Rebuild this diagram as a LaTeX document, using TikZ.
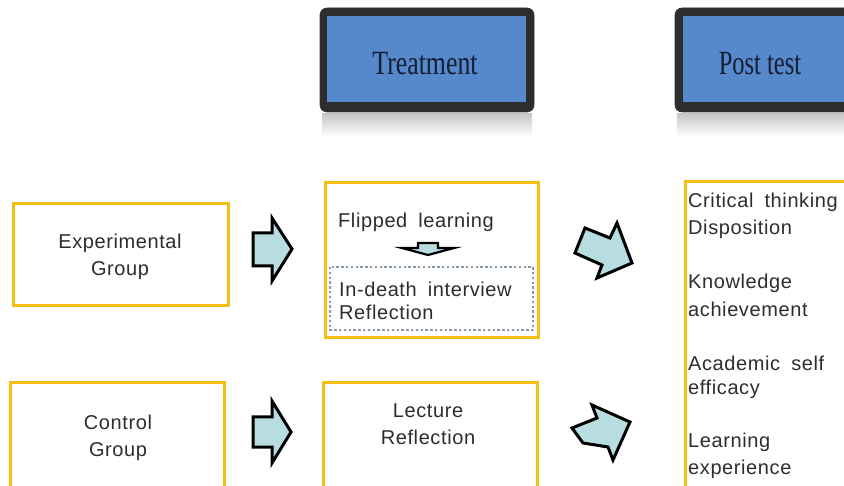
\documentclass[tikz,border=0pt]{standalone}
\usepackage{fontspec}
\newfontfamily\bodyf[LetterSpace=3,WordSpace=1.8]{Liberation Sans}
\newfontfamily\headf{Liberation Serif}
\definecolor{ybord}{RGB}{245,190,20}
\definecolor{hblue}{RGB}{86,136,204}
\definecolor{hdark}{RGB}{45,45,45}
\definecolor{afill}{RGB}{183,221,224}
\definecolor{tgray}{RGB}{45,45,45}
\definecolor{dotc}{RGB}{135,152,168}
\definecolor{navy}{RGB}{22,30,52}
\tikzset{
  ybox/.style={draw=ybord, line width=3pt, fill=white, inner sep=0pt},
  btext/.style={font=\bodyf\fontsize{20}{27}\selectfont, text=tgray, align=center},
  ltext/.style={font=\bodyf\fontsize{20}{27}\selectfont, text=tgray, anchor=west, inner sep=0pt},
  hframe/.style={fill=hdark, rounded corners=7pt, draw=black!80, line width=0.6pt},
  hinner/.style={fill=hblue, draw=none},
  htext/.style={font=\headf\fontsize{34}{34}\selectfont, text=navy},
  blockarrow/.style={fill=afill, draw=black, line width=3pt, line join=miter},
  refl/.style={top color=black!22, bottom color=white, draw=none}
}
\begin{document}
\begin{tikzpicture}[x=1pt,y=-1pt]
\useasboundingbox (0,0) rectangle (844,486);
\fill[white] (0,0) rectangle (844,486);

% header boxes
\shade[refl] (322,114) rectangle (532,136);
\draw[hframe] (320,8) rectangle (534,112);
\node[hinner, minimum width=199, minimum height=86] (treat) at (426.5,59) {};
\node[htext] (treatT) at (425,64) {\scalebox{0.76}[1]{Treatment}};

\shade[refl] (677,114) rectangle (844,136);
\draw[hframe] (675,8) rectangle (860,112);
\node[hinner, minimum width=200, minimum height=86, anchor=west] (post) at (683,59) {};
\node[htext] (postT) at (760,64) {\scalebox{0.72}[1]{Post test}};

% left group boxes
\node[ybox, minimum width=215, minimum height=102] (exp) at (120.5,254.5) {};
\node[btext] (expT) at (120,257) {Experimental\\Group};

\node[ybox, minimum width=214, minimum height=110] (ctl) at (117,438) {};
\node[btext] (ctlT) at (118,438) {Control\\Group};

% treatment boxes
\node[ybox, minimum width=213, minimum height=155] (tx) at (431.5,260.5) {};
\node[btext] (flip) at (416,222) {Flipped learning};
\draw[dotc, line width=2.6pt, dash pattern=on 2.4pt off 2.4pt] (330,267) rectangle (533,330);
\node[ltext] (ind) at (339,289) {In-death interview};
\node[ltext] (refl1) at (339,312) {Reflection};
\draw[fill=afill, draw=black, line width=2.2pt] (418,243) -- (438,243) -- (438,248) -- (454,248) -- (428,255) -- (402,248) -- (418,248) -- cycle;

\node[ybox, minimum width=214, minimum height=110] (lec) at (430.5,438) {};
\node[btext] (lecT) at (428,424) {Lecture\\Reflection};

% post test box
\node[ybox, minimum width=180, minimum height=320, anchor=north west] (pt) at (684,180) {};
\node[ltext] (p1) at (688,202) {Critical thinking};
\node[ltext] (p2) at (688,229) {Disposition};
\node[ltext] (p3) at (688,283) {Knowledge};
\node[ltext] (p4) at (688,309) {achievement};
\node[ltext] (p5) at (688,363) {Academic self};
\node[ltext] (p6) at (688,389) {efficacy};
\node[ltext] (p7) at (688,442) {Learning};
\node[ltext] (p8) at (688,469) {experience};

% block arrows
\draw[blockarrow] (253,233) -- (272,233) -- (272,218) -- (292,249) -- (272,281) -- (272,266) -- (253,266) -- cycle;
\draw[blockarrow] (253,417) -- (272,417) -- (272,401) -- (291,432) -- (272,463) -- (272,447) -- (253,447) -- cycle;
\draw[blockarrow] (585,228) -- (610,238) -- (617,223) -- (632,263) -- (597,278) -- (602,265) -- (575,253) -- cycle;
\draw[blockarrow] (572,428) -- (597,418) -- (592,405) -- (630,422) -- (613,460) -- (608,447) -- (583,443) -- cycle;
\end{tikzpicture}
\end{document}
